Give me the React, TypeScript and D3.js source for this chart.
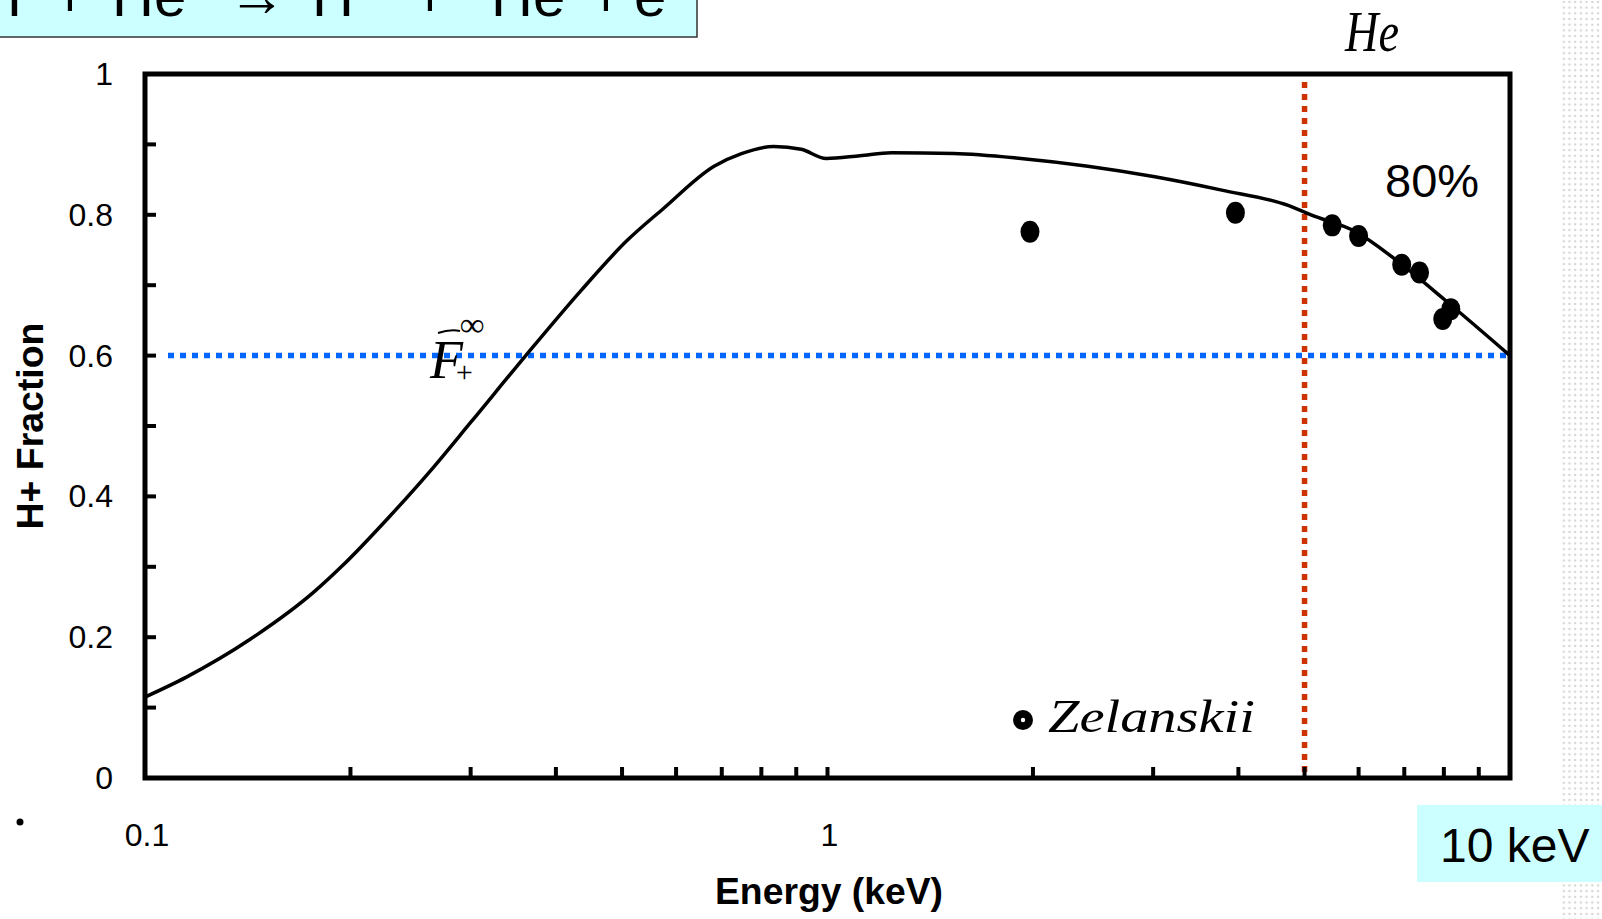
import { useEffect, useRef } from "react";
import * as d3 from "d3";

// H+ fraction vs energy, calculated curve
const curveEnergy = [
  0.1, 0.1148, 0.1426, 0.1772, 0.1944, 0.227, 0.265, 0.3, 0.3613, 0.435, 0.508, 0.575,
  0.682, 0.748, 0.834, 0.915, 0.996, 1.116, 1.241, 1.532, 1.92, 2.407, 3.017, 3.782,
  4.742, 5.11, 5.94, 6.91, 8.03, 10,
];
const curveFraction = [
  0.115, 0.143, 0.197, 0.265, 0.301, 0.369, 0.442, 0.505, 0.6, 0.692, 0.763, 0.809,
  0.869, 0.887, 0.897, 0.893, 0.88, 0.884, 0.888, 0.887, 0.88, 0.869, 0.854, 0.835,
  0.813, 0.8, 0.776, 0.731, 0.679, 0.6,
];

// Zelanskii measurements
const zelEnergy = [1.98, 3.96, 5.49, 6.0, 6.94, 7.37, 8.19, 7.97];
const zelFraction = [0.776, 0.803, 0.785, 0.77, 0.729, 0.718, 0.666, 0.652];

const yTickValues = [0, 0.2, 0.4, 0.6, 0.8, 1];
const yTickLabels = ["0", "0.2", "0.4", "0.6", "0.8", "1"];
const yMinorValues = [0.1, 0.3, 0.5, 0.7, 0.9];
const xTickValues = [0.1, 1];
const xTickLabels = ["0.1", "1"];

const refFraction = 0.6; // blue dotted
const heEnergy = 5; // red dotted

const W = 1602;
const H = 919;
const SANS = "'Liberation Sans', Arial, sans-serif";
const HAND = "'Liberation Serif', serif";

export default function App() {
  const svgRef = useRef<SVGSVGElement | null>(null);

  useEffect(() => {
    const svg = d3.select(svgRef.current);
    svg.selectAll("*").remove();

    const x = d3.scaleLog().domain([0.1, 10]).range([145, 1510]);
    const y = d3.scaleLinear().domain([0, 1]).range([778, 74]);

    svg.append("rect").attr("width", W).attr("height", H).attr("fill", "#fff");

    // dotted strip on the right edge
    const defs = svg.append("defs");
    const pat = defs
      .append("pattern")
      .attr("id", "dots")
      .attr("width", 11.4)
      .attr("height", 11.4)
      .attr("patternUnits", "userSpaceOnUse");
    [
      [2, 2],
      [7.7, 7.7],
      [7.7, 2],
      [2, 7.7],
    ].forEach(([cx, cy]) =>
      pat.append("circle").attr("cx", cx).attr("cy", cy).attr("r", 1.2).attr("fill", "#d4d4d4")
    );
    svg
      .append("rect")
      .attr("x", 1562)
      .attr("y", 0)
      .attr("width", W - 1562)
      .attr("height", H)
      .attr("fill", "url(#dots)");

    // reference lines
    svg
      .append("line")
      .attr("x1", 168)
      .attr("x2", x(10))
      .attr("y1", y(refFraction))
      .attr("y2", y(refFraction))
      .attr("stroke", "#0066ff")
      .attr("stroke-width", 5.5)
      .attr("stroke-dasharray", "6 6");
    svg
      .append("line")
      .attr("x1", x(heEnergy))
      .attr("x2", x(heEnergy))
      .attr("y1", 82)
      .attr("y2", y(0))
      .attr("stroke", "#cc3300")
      .attr("stroke-width", 5.5)
      .attr("stroke-dasharray", "6 6");

    // calculated curve
    const pts: [number, number][] = curveEnergy.map((e, i) => [x(e), y(curveFraction[i])]);
    const line = d3.line().curve(d3.curveMonotoneX);
    svg
      .append("path")
      .attr("d", line(pts) ?? "")
      .attr("fill", "none")
      .attr("stroke", "#000")
      .attr("stroke-width", 3.5)
      .attr("stroke-linejoin", "round");

    // data points
    svg
      .append("g")
      .selectAll("ellipse")
      .data(zelEnergy)
      .join("ellipse")
      .attr("cx", (d) => x(d))
      .attr("cy", (_d, i) => y(zelFraction[i]))
      .attr("rx", 9.5)
      .attr("ry", 11)
      .attr("fill", "#000");

    // frame
    svg
      .append("rect")
      .attr("x", x(0.1))
      .attr("y", y(1))
      .attr("width", x(10) - x(0.1))
      .attr("height", y(0) - y(1))
      .attr("fill", "none")
      .attr("stroke", "#000")
      .attr("stroke-width", 5);

    // y ticks (inward)
    const yAll = [...yTickValues, ...yMinorValues].filter((v) => v > 0 && v < 1);
    svg
      .append("g")
      .selectAll("line")
      .data(yAll)
      .join("line")
      .attr("x1", x(0.1))
      .attr("x2", x(0.1) + 11)
      .attr("y1", (d) => y(d))
      .attr("y2", (d) => y(d))
      .attr("stroke", "#000")
      .attr("stroke-width", 4);
    svg
      .append("g")
      .selectAll("text")
      .data(yTickValues)
      .join("text")
      .attr("x", 113)
      .attr("y", (d) => y(d) + 11)
      .attr("text-anchor", "end")
      .attr("font-family", SANS)
      .attr("font-size", 32)
      .attr("fill", "#000")
      .text((_d, i) => yTickLabels[i]);

    // x ticks (log minor, inward)
    const xAll = x.ticks().filter((v) => v > 0.1 && v < 10);
    svg
      .append("g")
      .selectAll("line")
      .data(xAll)
      .join("line")
      .attr("x1", (d) => x(d))
      .attr("x2", (d) => x(d))
      .attr("y1", y(0))
      .attr("y2", y(0) - 11)
      .attr("stroke", "#000")
      .attr("stroke-width", 4);
    svg
      .append("g")
      .selectAll("text")
      .data(xTickValues)
      .join("text")
      .attr("x", (d) => x(d) + 2)
      .attr("y", 846)
      .attr("text-anchor", "middle")
      .attr("font-family", SANS)
      .attr("font-size", 32)
      .attr("fill", "#000")
      .text((_d, i) => xTickLabels[i]);

    // axis titles
    svg
      .append("text")
      .attr("transform", "translate(43,426) rotate(-90)")
      .attr("text-anchor", "middle")
      .attr("font-family", SANS)
      .attr("font-weight", "bold")
      .attr("font-size", 36)
      .attr("textLength", 207)
      .attr("lengthAdjust", "spacingAndGlyphs")
      .text("H+ Fraction");
    svg
      .append("text")
      .attr("x", 829)
      .attr("y", 904)
      .attr("text-anchor", "middle")
      .attr("font-family", SANS)
      .attr("font-weight", "bold")
      .attr("font-size", 37)
      .attr("textLength", 228)
      .attr("lengthAdjust", "spacingAndGlyphs")
      .text("Energy (keV)");

    // legend
    svg.append("circle").attr("cx", 1023).attr("cy", 720).attr("r", 10).attr("fill", "#000");
    svg.append("circle").attr("cx", 1023).attr("cy", 720).attr("r", 2.2).attr("fill", "#fff");
    svg
      .append("text")
      .attr("x", 1048)
      .attr("y", 732)
      .attr("font-family", HAND)
      .attr("font-style", "italic")
      .attr("font-size", 46)
      .attr("textLength", 207)
      .attr("lengthAdjust", "spacingAndGlyphs")
      .text("Zelanskii");

    // annotations
    svg
      .append("text")
      .attr("x", 1345)
      .attr("y", 51)
      .attr("font-family", HAND)
      .attr("font-style", "italic")
      .attr("font-size", 58)
      .attr("textLength", 54)
      .attr("lengthAdjust", "spacingAndGlyphs")
      .text("He");
    svg
      .append("text")
      .attr("x", 1385)
      .attr("y", 197)
      .attr("font-family", SANS)
      .attr("font-size", 47)
      .text("80%");

    const fl = svg.append("g").attr("font-family", HAND).attr("font-style", "italic");
    fl.append("text").attr("x", 430).attr("y", 378).attr("font-size", 54).text("F");
    fl.append("text").attr("x", 460).attr("y", 336).attr("font-size", 34).text("∞");
    fl.append("text").attr("x", 454).attr("y", 382).attr("font-size", 30).text("+");
    svg
      .append("path")
      .attr("d", "M438,333 Q450,329 460,331")
      .attr("fill", "none")
      .attr("stroke", "#000")
      .attr("stroke-width", 2);

    // stray dot bottom-left
    svg.append("circle").attr("cx", 20).attr("cy", 822).attr("r", 3.5).attr("fill", "#000");

    // title box (cut at top)
    svg
      .append("rect")
      .attr("x", -2)
      .attr("y", -2)
      .attr("width", 699)
      .attr("height", 39)
      .attr("fill", "#ccffff")
      .attr("stroke", "#333")
      .attr("stroke-width", 1.5);
    const tg = svg.append("g").attr("font-family", SANS).attr("font-size", 58).attr("fill", "#000");
    const titleParts: [string, number][] = [
      ["H⁰", -20],
      ["+", 53],
      ["He", 112],
      ["→", 228],
      ["H⁺", 312],
      ["+", 413],
      ["He", 491],
      ["+", 589],
      ["e", 634],
    ];
    titleParts.forEach(([t, px]) => {
      tg.append("text").attr("x", px).attr("y", 16).text(t);
    });

    // 10 keV box
    svg
      .append("rect")
      .attr("x", 1417)
      .attr("y", 805)
      .attr("width", W - 1417)
      .attr("height", 77)
      .attr("fill", "#ccffff");
    svg
      .append("text")
      .attr("x", 1440)
      .attr("y", 862)
      .attr("font-family", SANS)
      .attr("font-size", 48)
      .text("10 keV");
  }, []);

  return (
    <svg
      ref={svgRef}
      width={W}
      height={H}
      viewBox={`0 0 ${W} ${H}`}
      style={{ position: "absolute", left: 0, top: 0 }}
    />
  );
}
